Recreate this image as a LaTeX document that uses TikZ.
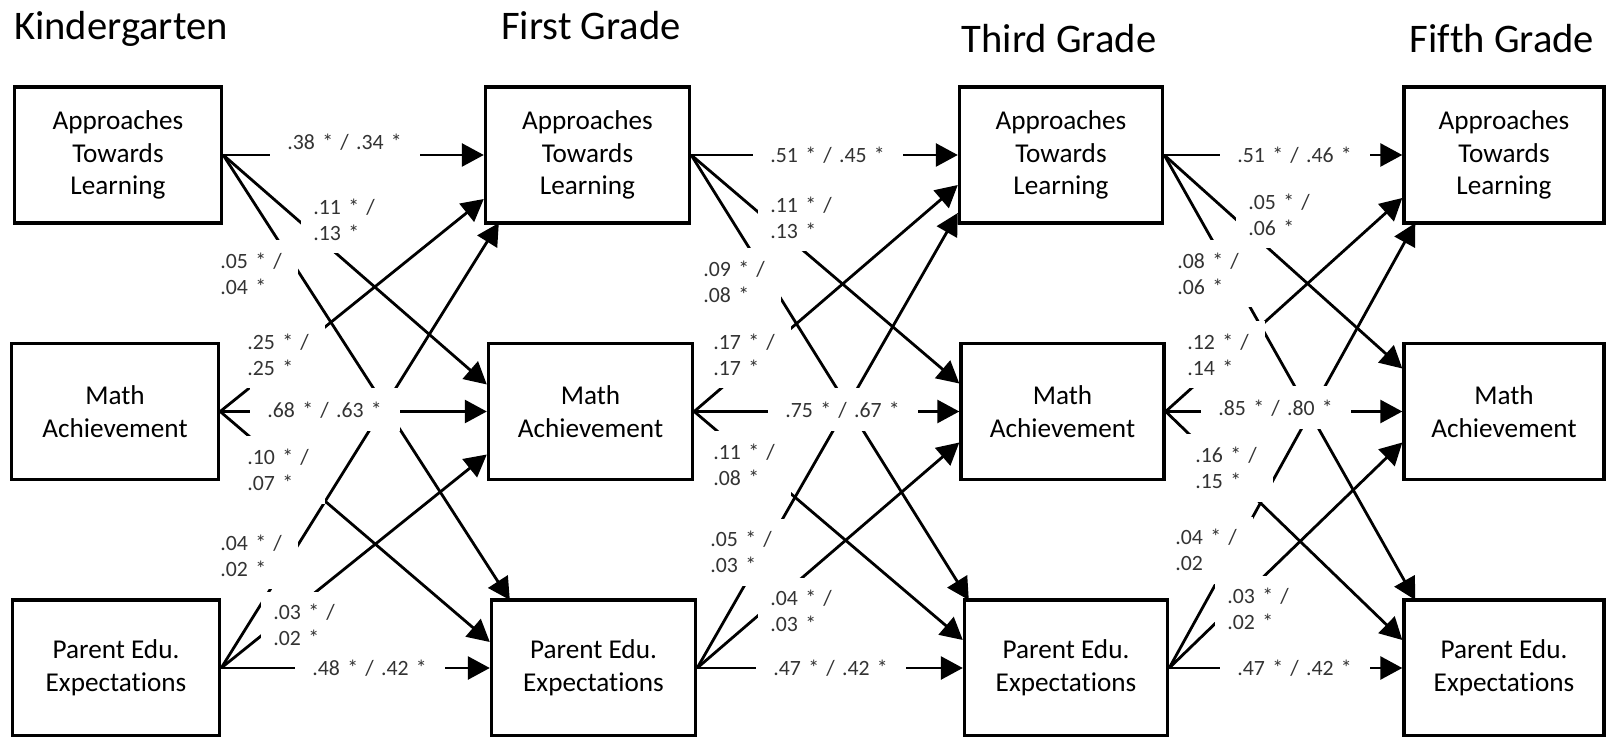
\documentclass[tikz,border=0pt]{standalone}
\usepackage{fontspec}
\setmainfont{Carlito}[Ligatures=NoCommon]
\usepackage{tikz}
\usetikzlibrary{calc}
\usetikzlibrary{arrows.meta}
\tikzset{measure/.style={rectangle,draw=black,line width=1.7pt,minimum height=68pt,align=center,inner sep=0pt,font=\fontsize{13.6}{16.4}\selectfont}}
\tikzset{coef/.style={fill=white,anchor=west,align=left,text width=58pt,inner xsep=8.5pt,inner ysep=0pt,minimum height=21.5pt,text=black!80,font=\fontsize{10.9}{13}\selectfont}}
\tikzset{coefii/.style={coef,text width=33pt,inner xsep=6pt,minimum height=33.5pt}}
\tikzset{link/.style={line width=1.4pt,-{Triangle[length=11pt,width=11.5pt]}}}
\tikzset{grade/.style={anchor=base,inner sep=0pt,font=\fontsize{20.3}{24}\selectfont}}

\begin{document}
\begin{tikzpicture}[x=0.5pt,y=-0.5pt]
\useasboundingbox (0,0) rectangle (1606,737);

% grade titles
\node[grade] (gK) at (121,40) {Kindergarten};
\node[grade] (g1) at (591,40) {First Grade};
\node[grade] (g3) at (1059,53) {Third Grade};
\node[grade] (g5) at (1502,53) {Fifth Grade};

% measures per wave
\foreach \c/\xa/\xm/\xp/\w in {0/118/115/116/103.5pt,1/587.5/590.5/593.5/102pt,3/1061/1062.5/1066/101.5pt,5/1504/1504/1504/100pt} {
	\node[measure,minimum width=\w] (A\c) at (\xa,155) {Approaches\\Towards\\Learning};
	\node[measure,minimum width=\w] (M\c) at (\xm,411.5) {Math\\Achievement};
	\node[measure,minimum width=\w] (P\c) at (\xp,668) {Parent Edu.\\Expectations};
}

% where the arrows hit the next wave
\foreach \t/\u/\dx/\dy in {A1/A/0/0,A1/M/0/44,A1/P/15/68,M1/A/0/-27,M1/M/0/0,M1/P/0/43,P1/A/20/-68,P1/M/0/-26,P1/P/0/0,
	A3/A/0/0,A3/M/0/30,A3/P/0/58,M3/A/0/-28,M3/M/0/0,M3/P/0/31,P3/A/6/-68,P3/M/0/-28,P3/P/0/0,
	A5/A/0/0,A5/M/0/43,A5/P/13/68,M5/A/0/-43,M5/M/0/0,M5/P/0/31,P5/A/13/-68,P5/M/0/-28,P5/P/0/0} {
	\coordinate (\t-\u) at ($(\t.west)+(\dx,\dy)$);
}

\foreach \s/\t in {0/1,1/3,3/5} {
	\foreach \u in {A,M,P} {
		\foreach \v in {A,M,P} {
			\draw[link] (\u\s.east) -- (\v\t-\u);
		}
	}
}

% coefficients, kindergarten to first grade
\node[coef] (cAA0) at (270,142) {.38 * / .34 *};
\node[coefii] (cAM0) at (301,219.5) {.11 * /\\.13 *};
\node[coefii] (cAP0) at (208,273.5) {.05 * /\\.04 *};
\node[coefii] (cMA0) at (235,354.5) {.25 * /\\.25 *};
\node[coef] (cMM0) at (250,410) {.68 * / .63 *};
\node[coefii] (cMP0) at (235,470) {.10 * /\\.07 *};
\node[coefii] (cPA0) at (208,555.5) {.04 * /\\.02 *};
\node[coefii] (cPM0) at (261,625) {.03 * /\\.02 *};
\node[coef] (cPP0) at (295,668) {.48 * / .42 *};

% first to third grade
\node[coef] (cAA1) at (753,155) {.51 * / .45 *};
\node[coefii] (cAM1) at (758,218) {.11 * /\\.13 *};
\node[coefii] (cAP1) at (691,282) {.09 * /\\.08 *};
\node[coefii] (cMA1) at (701,355) {.17 * /\\.17 *};
\node[coef] (cMM1) at (768,410) {.75 * / .67 *};
\node[coefii] (cMP1) at (701,465) {.11 * /\\.08 *};
\node[coefii] (cPA1) at (698,552) {.05 * /\\.03 *};
\node[coefii] (cPM1) at (758,611) {.04 * /\\.03 *};
\node[coef] (cPP1) at (756,668) {.47 * / .42 *};

% third to fifth grade
\node[coef] (cAA3) at (1220,155) {.51 * / .46 *};
\node[coefii] (cAM3) at (1236,215) {.05 * /\\.06 *};
\node[coefii] (cAP3) at (1165,273.5) {.08 * /\\.06 *};
\node[coefii] (cMA3) at (1175,355) {.12 * /\\.14 *};
\node[coef] (cMM3) at (1201,408) {.85 * / .80 *};
\node[coefii] (cMP3) at (1183,468) {.16 * /\\.15 *};
\node[coefii] (cPA3) at (1163,550) {.04 * /\\.02};
\node[coefii] (cPM3) at (1215,609) {.03 * /\\.02 *};
\node[coef] (cPP3) at (1220,668) {.47 * / .42 *};

\end{tikzpicture}
\end{document}
